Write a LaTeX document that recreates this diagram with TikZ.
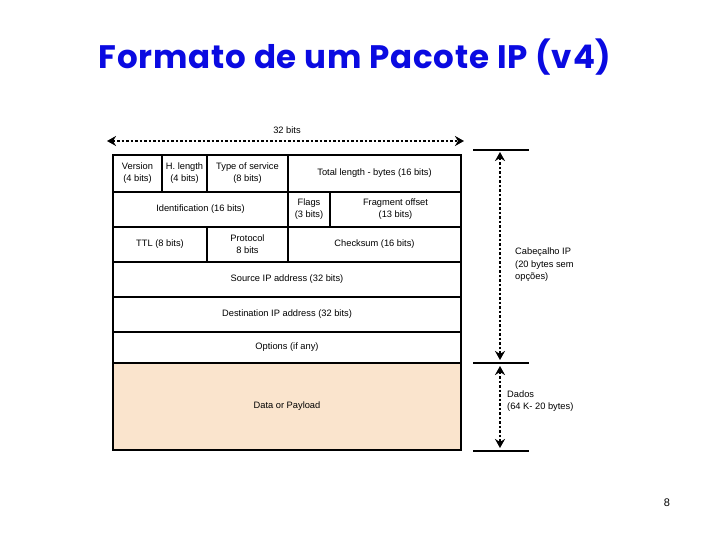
\documentclass[tikz,border=0pt]{standalone}
\usepackage{fontspec}
\setmainfont{Liberation Sans}
\newfontfamily\titlefont[LetterSpace=2.5]{Poppins}
\usetikzlibrary{arrows.meta}
\definecolor{peach}{RGB}{250,228,205}
\definecolor{titleblue}{RGB}{10,10,225}
\tikzset{
  field/.style={draw=black, line width=2.6pt, inner sep=0pt, align=center,
    font=\fontsize{9.3}{12}\selectfont},
  lbl/.style={inner sep=0pt, align=left, font=\fontsize{9.3}{12.5}\selectfont},
  bar/.style={line width=2.6pt},
  dimarrow/.style={line width=2.3pt, dash pattern=on 2.5pt off 2pt,
    {Stealth[length=9pt,width=10pt]}-{Stealth[length=9pt,width=10pt]}}
}
\newcommand{\fld}[6]{% name, x1, y1, x2, y2, text
  \node[field, minimum width={#4-#2}, minimum height={#5-#3}] (#1) at ({(#2+#4)/2},{(#3+#5)/2}) {#6};}
\begin{document}
\begin{tikzpicture}[x=1pt,y=-1pt]
\useasboundingbox (0,0) rectangle (720,540);
\node[font=\titlefont\bfseries\fontsize{32.5}{36}\selectfont, text=titleblue] (title) at (355,57) {Formato de um Pacote IP (v4)};

% 32 bits arrow
\coordinate (wl) at (107,141);
\coordinate (wr) at (464,141);
\draw[dimarrow] (wl) -- (wr);
\node[lbl] (w32) at (287,130) {32 bits};

% header fields
\fld{ver}{113}{155}{162}{192}{Version\\(4 bits)}
\fld{hlen}{162}{155}{207}{192}{H. length\\(4 bits)}
\fld{tos}{207}{155}{288}{192}{Type of service\\(8 bits)}
\fld{tlen}{288}{155}{461}{192}{Total length - bytes (16 bits)}
\fld{ident}{113}{192}{288}{227}{Identification (16 bits)}
\fld{flags}{288}{192}{330}{227}{Flags\\(3 bits)}
\fld{frag}{330}{192}{461}{227}{Fragment offset\\(13 bits)}
\fld{ttl}{113}{227}{207}{262}{TTL (8 bits)}
\fld{proto}{207}{227}{288}{262}{Protocol\\8 bits}
\fld{cksum}{288}{227}{461}{262}{Checksum (16 bits)}
\fld{src}{113}{262}{461}{297}{Source IP address (32 bits)}
\fld{dst}{113}{297}{461}{332}{Destination IP address (32 bits)}
\fld{opt}{113}{332}{461}{363}{Options (if any)}
\node[field, fill=peach, minimum width=348pt, minimum height=87pt] (data) at (287,406.5) {Data or Payload};

% right side markers
\coordinate (b1l) at (473,150); \coordinate (b1r) at (529,150);
\coordinate (b2l) at (473,363); \coordinate (b2r) at (529,363);
\coordinate (b3l) at (473,451); \coordinate (b3r) at (529,451);
\draw[bar] (b1l) -- (b1r);
\draw[bar] (b2l) -- (b2r);
\draw[bar] (b3l) -- (b3r);
\coordinate (h1) at (500,152);
\coordinate (h2) at (500,360);
\coordinate (d1) at (500,366);
\coordinate (d2) at (500,448);
\draw[dimarrow] (h1) -- (h2);
\draw[dimarrow] (d1) -- (d2);
\node[lbl, anchor=west] (hdr) at (515,265) {Cabeçalho IP\\(20 bytes sem\\opções)};
\node[lbl, anchor=west] (dad) at (507,401) {Dados\\(64 K- 20 bytes)};

\node[font=\fontsize{11}{13}\selectfont] (pg) at (667,503) {8};
\end{tikzpicture}
\end{document}
